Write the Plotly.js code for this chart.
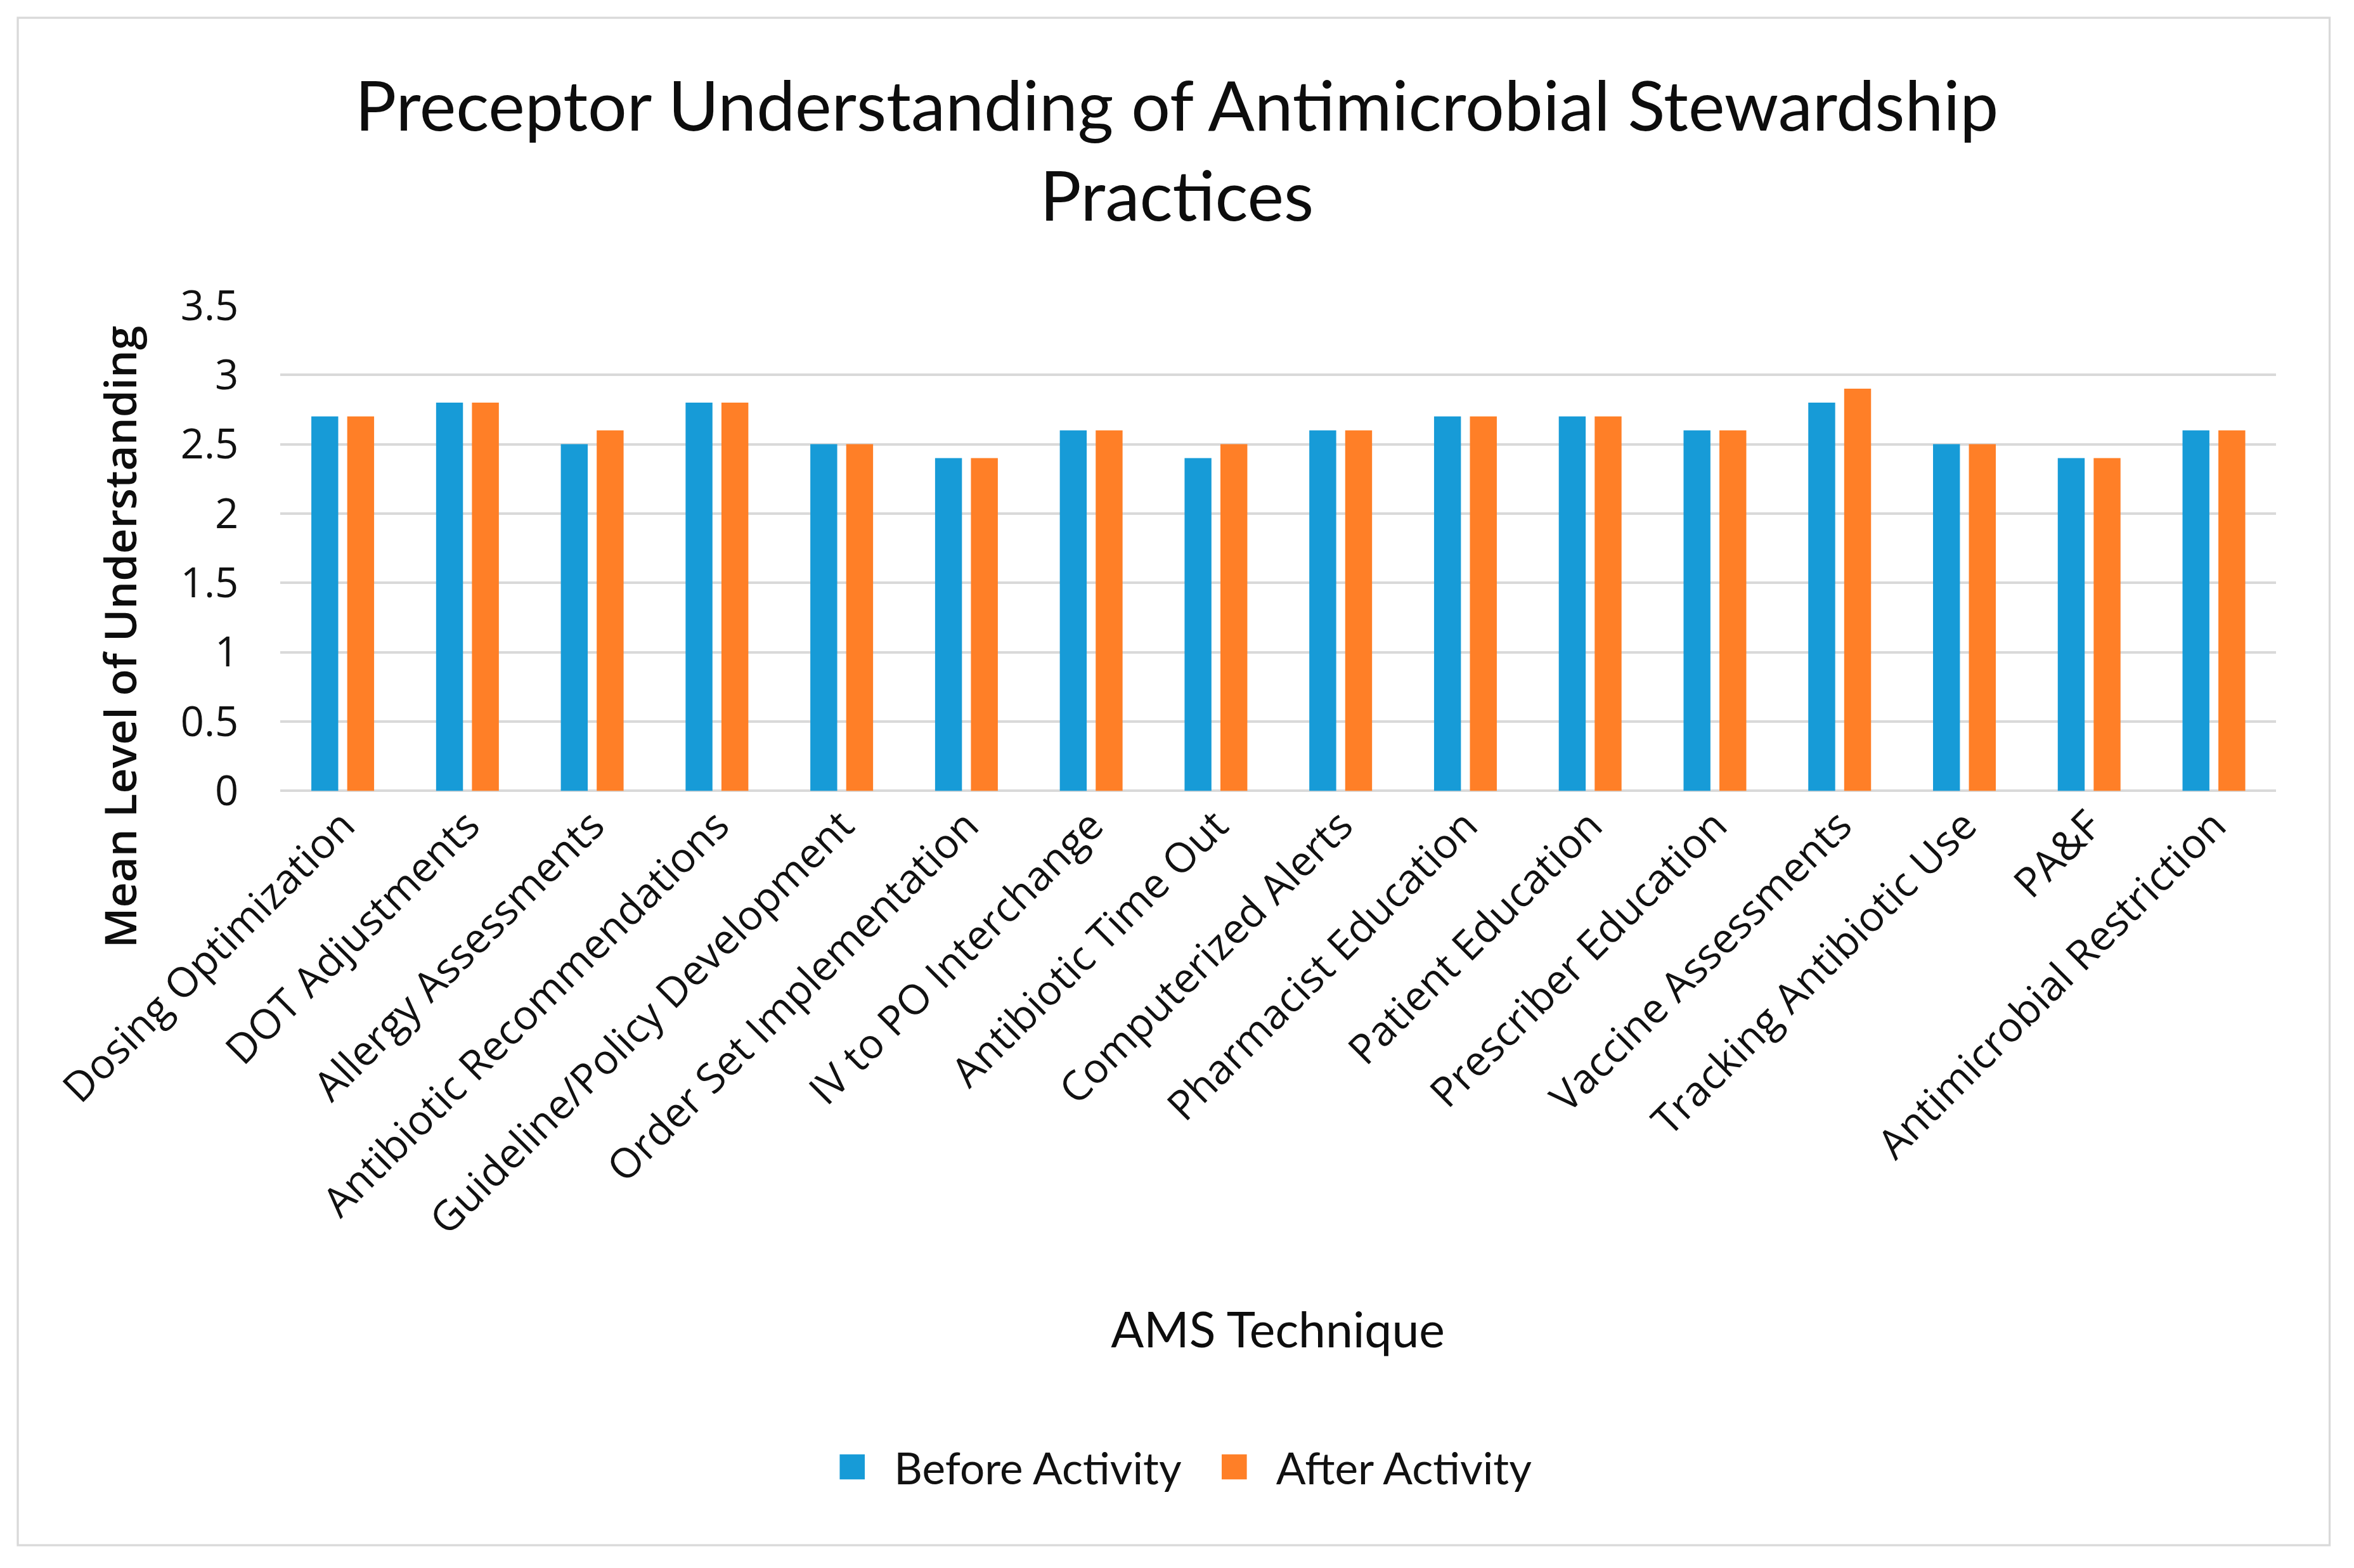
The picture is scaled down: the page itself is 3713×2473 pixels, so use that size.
<!DOCTYPE html>
<html>
<head>
<meta charset="utf-8">
<script src="https://cdn.plot.ly/plotly-3.0.1.min.js"></script>
<style>
html,body{margin:0;padding:0;background:#fff;overflow:hidden;}
#wrap{position:absolute;left:0;top:0;width:1125px;height:750px;transform:scale(3.3);transform-origin:0 0;}
#chart{position:absolute;left:0;top:0;width:1125px;height:750px;}
#frame{position:absolute;left:8px;top:8px;width:1104px;height:729px;border:1.5px solid #d9d9d9;pointer-events:none;}
</style>
</head>
<body>
<div id="wrap"><div id="chart"></div><div id="frame"></div></div>
<script>
const categories = [
  'Dosing Optimization', 'DOT Adjustments', 'Allergy Assessments', 'Antibiotic Recommendations',
  'Guideline/Policy Development', 'Order Set Implementation', 'IV to PO Interchange', 'Antibiotic Time Out',
  'Computerized Alerts', 'Pharmacist Education', 'Patient Education', 'Prescriber Education',
  'Vaccine Assessments', 'Tracking Antibiotic Use', 'PA&F', 'Antimicrobial Restriction'
];
const beforeActivity = [2.7, 2.8, 2.5, 2.8, 2.5, 2.4, 2.6, 2.4, 2.6, 2.7, 2.7, 2.6, 2.8, 2.5, 2.4, 2.6];
const afterActivity  = [2.7, 2.8, 2.6, 2.8, 2.5, 2.4, 2.6, 2.5, 2.6, 2.7, 2.7, 2.6, 2.9, 2.5, 2.4, 2.6];
const seriesNames = ['Before Activity', 'After Activity'];
const yTickVals = [0, 0.5, 1, 1.5, 2, 2.5, 3, 3.5];
const yTickText = ['0', '0.5', '1', '1.5', '2', '2.5', '3', '3.5'];
const chartTitle = 'Preceptor Understanding of Antimicrobial Stewardship<br>Practices';
const xTitle = 'AMS Technique';
const yTitle = 'Mean Level of Understanding';

const traces = [
  {type: 'bar', name: seriesNames[0], x: categories, y: beforeActivity, marker: {color: '#179BD7'}},
  {type: 'bar', name: seriesNames[1], x: categories, y: afterActivity, marker: {color: '#FF7F27'}}
];

const layout = {
  width: 1125, height: 750,
  margin: {l: 134, r: 37, t: 146, b: 372, pad: 0},
  paper_bgcolor: '#fff', plot_bgcolor: '#fff',
  barmode: 'group', bargap: 0.425, bargroupgap: 0.25,
  title: {
    text: chartTitle,
    font: {family: 'Lato, sans-serif', size: 33, color: '#0d0d0d'},
    x: 0.5, xref: 'container', xanchor: 'center',
    y: 0.9167, yref: 'container', yanchor: 'middle'
  },
  xaxis: {
    type: 'category', tickangle: -45, automargin: false,
    tickfont: {family: "'Open Sans', sans-serif", size: 19.7, color: '#111'},
    showgrid: false, showline: false, ticks: '', zeroline: false
  },
  yaxis: {
    range: [0, 3.5], tickvals: yTickVals, ticktext: yTickText, automargin: false,
    tickfont: {family: "'Open Sans', sans-serif", size: 19.7, color: '#111'},
    showgrid: true, gridcolor: '#d9d9d9', gridwidth: 1.2,
    zeroline: true, zerolinecolor: '#d9d9d9', zerolinewidth: 1.2,
    showline: false, ticks: '', ticklabelstandoff: 19
  },
  showlegend: true,
  legend: {
    orientation: 'h', x: 0.449, xanchor: 'center', y: -1.394, yanchor: 'middle',
    font: {family: 'Lato, sans-serif', size: 21, color: '#111'},
    traceorder: 'normal'
  },
  annotations: [
    {text: yTitle, xref: 'paper', yref: 'paper', x: -0.080, y: 0.317, showarrow: false,
     textangle: -90, xanchor: 'center', yanchor: 'middle',
     font: {family: "'Open Sans', sans-serif", size: 21, weight: 600, color: '#0d0d0d'}},
    {text: xTitle, xref: 'paper', yref: 'paper', x: 0.5, y: -1.108, showarrow: false,
     xanchor: 'center', yanchor: 'middle',
     font: {family: 'Lato, sans-serif', size: 23.3, color: '#0d0d0d'}}
  ]
};

Plotly.newPlot('chart', traces, layout, {displayModeBar: false, responsive: false, staticPlot: true});
</script>
</body>
</html>
